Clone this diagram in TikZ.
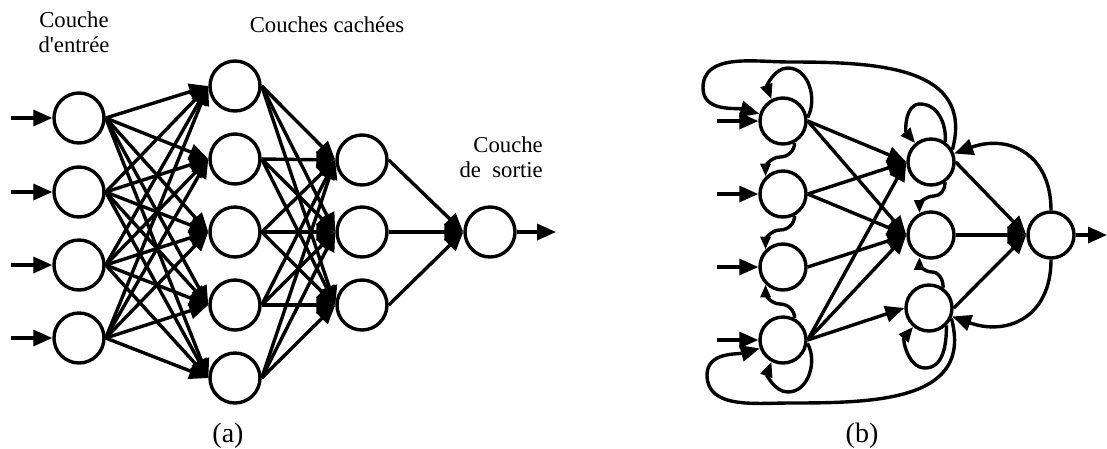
\documentclass[tikz,border=0pt]{standalone}
\usepackage{fontspec}
\setmainfont{Liberation Serif}
\usetikzlibrary{arrows.meta}

\tikzset{
    neuron/.style={circle, draw, line width=3.4pt, minimum size=50pt, inner sep=0pt},
    rneuron/.style={neuron, minimum size=46pt},
    syn/.style={-{Triangle[length=19pt, width=16pt]}, line width=3.4pt},
    fb/.style={-{Triangle[length=15pt, width=12pt]}, line width=3.4pt},
    lat/.style={-{Triangle[length=13pt, width=10pt]}, line width=3.4pt},
    layername/.style={font=\fontsize{22.7}{25}\selectfont, inner sep=0pt},
    panelname/.style={font=\fontsize{28}{32}\selectfont, inner sep=0pt}
}

\begin{document}
\begin{tikzpicture}[x=1pt, y=1pt]
    \useasboundingbox (0,0) rectangle (1107,-448);

    % draw the layers of the feedforward network (a)
    \node[neuron] (in1) at (79,-118) {};
    \node[neuron] (in2) at (79,-192) {};
    \node[neuron] (in3) at (79,-265) {};
    \node[neuron] (in4) at (79,-338) {};

    \node[neuron] (hA1) at (235,-86) {};
    \node[neuron] (hA2) at (235,-159) {};
    \node[neuron] (hA3) at (235,-232) {};
    \node[neuron] (hA4) at (235,-305) {};
    \node[neuron] (hA5) at (235,-378) {};

    \node[neuron] (hB1) at (362,-160) {};
    \node[neuron] (hB2) at (362,-232) {};
    \node[neuron] (hB3) at (362,-305) {};

    \node[neuron] (outA) at (490,-232) {};

    % draw the inputs and the output
    \coordinate (src1) at (11,-118);
    \coordinate (src2) at (11,-192);
    \coordinate (src3) at (11,-265);
    \coordinate (src4) at (11,-338);
    \coordinate (sink) at (556,-232);
    \draw[syn] (src1) -- (in1.west);
    \draw[syn] (src2) -- (in2.west);
    \draw[syn] (src3) -- (in3.west);
    \draw[syn] (src4) -- (in4.west);
    \draw[syn] (outA.east) -- (sink);

    % connect the input layer to the first hidden layer
    \draw[syn] (in1.east) -- (hA1.west); \draw[syn] (in1.east) -- (hA2.west); \draw[syn] (in1.east) -- (hA3.west);
    \draw[syn] (in1.east) -- (hA4.west); \draw[syn] (in1.east) -- (hA5.west);
    \draw[syn] (in2.east) -- (hA1.west); \draw[syn] (in2.east) -- (hA2.west); \draw[syn] (in2.east) -- (hA3.west);
    \draw[syn] (in2.east) -- (hA4.west); \draw[syn] (in2.east) -- (hA5.west);
    \draw[syn] (in3.east) -- (hA1.west); \draw[syn] (in3.east) -- (hA2.west); \draw[syn] (in3.east) -- (hA3.west);
    \draw[syn] (in3.east) -- (hA4.west); \draw[syn] (in3.east) -- (hA5.west);
    \draw[syn] (in4.east) -- (hA1.west); \draw[syn] (in4.east) -- (hA2.west); \draw[syn] (in4.east) -- (hA3.west);
    \draw[syn] (in4.east) -- (hA4.west); \draw[syn] (in4.east) -- (hA5.west);

    % connect the first hidden layer to the second one
    \draw[syn] (hA1.east) -- (hB1.west); \draw[syn] (hA1.east) -- (hB2.west); \draw[syn] (hA1.east) -- (hB3.west);
    \draw[syn] (hA2.east) -- (hB1.west); \draw[syn] (hA2.east) -- (hB2.west); \draw[syn] (hA2.east) -- (hB3.west);
    \draw[syn] (hA3.east) -- (hB1.west); \draw[syn] (hA3.east) -- (hB2.west); \draw[syn] (hA3.east) -- (hB3.west);
    \draw[syn] (hA4.east) -- (hB1.west); \draw[syn] (hA4.east) -- (hB2.west); \draw[syn] (hA4.east) -- (hB3.west);
    \draw[syn] (hA5.east) -- (hB1.west); \draw[syn] (hA5.east) -- (hB2.west); \draw[syn] (hA5.east) -- (hB3.west);

    % connect the second hidden layer to the output
    \draw[syn] (hB1.east) -- (outA.west);
    \draw[syn] (hB2.east) -- (outA.west);
    \draw[syn] (hB3.east) -- (outA.west);

    % draw the labels of (a)
    \node[layername, align=center, anchor=north] (lblin) at (74,-11.5) {Couche\\d\textquotesingle entrée};
    \node[layername, anchor=base] (lblhid) at (327,-32) {Couches cachées};
    \node[layername, align=right, anchor=north east] (lblout) at (543,-136.5) {Couche\\de\ \ sortie};
    \node[panelname, anchor=base] (capa) at (228,-442) {(a)};

    % draw the layers of the recurrent network (b)
    \node[rneuron] (rin1) at (783,-121) {};
    \node[rneuron] (rin2) at (783,-194) {};
    \node[rneuron] (rin3) at (783,-267) {};
    \node[rneuron] (rin4) at (783,-340) {};

    \node[rneuron] (rmid1) at (931,-162) {};
    \node[rneuron] (rmid2) at (931,-235) {};
    \node[rneuron] (rmid3) at (929,-308) {};

    \node[rneuron] (rout) at (1051,-235) {};

    % draw the inputs and the output
    \coordinate (rsrc1) at (717,-121);
    \coordinate (rsrc2) at (717,-194);
    \coordinate (rsrc3) at (717,-267);
    \coordinate (rsrc4) at (717,-340);
    \coordinate (rsink) at (1107,-235);
    \draw[syn] (rsrc1) -- (rin1.west);
    \draw[syn] (rsrc2) -- (rin2.west);
    \draw[syn] (rsrc3) -- (rin3.west);
    \draw[syn] (rsrc4) -- (rin4.west);
    \draw[syn] (rout.east) -- (rsink);

    % draw the forward connections
    \draw[syn] (rin1.east) -- (rmid1.west); \draw[syn] (rin1.east) -- (rmid2.west);
    \draw[syn] (rin2.east) -- (rmid1.west); \draw[syn] (rin2.east) -- (rmid2.west);
    \draw[syn] (rin3.east) -- (rmid2.west);
    \draw[syn] (rin4.east) -- (rmid1.west); \draw[syn] (rin4.east) -- (rmid2.west); \draw[syn] (rin4.east) -- (rmid3.west);
    \draw[syn] (rmid1.east) -- (rout.west);
    \draw[syn] (rmid2.east) -- (rout.west);
    \draw[syn] (rmid3.east) -- (rout.west);

    % draw the feedback from the output
    \draw[syn] (rout.north) to[out=90, in=20, looseness=1.3] (rmid1.20);
    \draw[syn] (rout.south) to[out=-90, in=-20, looseness=1.3] (rmid3.-20);

    % draw the self loops
    \draw[fb] (rin1.8) to[out=60, in=0] (788,-68) to[out=180, in=110] (rin1.118);
    \draw[fb] (rin4.-8) to[out=-60, in=0] (788,-392) to[out=180, in=-110] (rin4.-118);
    \draw[fb] (rmid1.55) to[out=85, in=0] (920,-104) to[out=180, in=130] (rmid1.130);
    \draw[fb] (rmid3.-45) to[out=-90, in=0] (925,-368) to[out=180, in=-130] (rmid3.-130);

    % draw the lateral connections
    \draw[lat] (rin1.-62) to[out=-90, in=0] (780,-157) to[out=180, in=90] (rin2.135);
    \draw[lat] (rin2.-62) to[out=-90, in=0] (780,-230) to[out=180, in=90] (rin3.135);
    \draw[lat] (rin4.62) to[out=90, in=0] (780,-304) to[out=180, in=-90] (rin3.-135);
    \draw[lat] (rmid1.-55) to[out=-90, in=0] (934,-196) to[out=180, in=90] (rmid2.118);
    \draw[lat] (rmid3.55) to[out=90, in=0] (932,-272) to[out=180, in=-90] (rmid2.-118);

    % draw the long feedback to the input layer
    \draw[syn] (rmid1.30) to[out=75, in=0, looseness=1.2] (790,-62) to[out=180, in=90] (703,-88) to[out=-90, in=165] (rin1.163);
    \draw[syn] (rmid3.-25) to[out=-75, in=0, looseness=1.2] (790,-403) to[out=180, in=-90] (707,-375) to[out=90, in=195] (rin4.200);

    % draw the label of (b)
    \node[panelname, anchor=base] (capb) at (862,-442) {(b)};
\end{tikzpicture}
\end{document}
